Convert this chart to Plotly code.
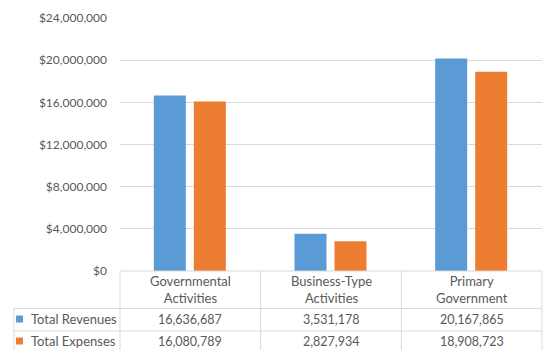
import plotly.graph_objects as go

categories = ["Governmental<br>Activities", "Business-Type<br>Activities", "Primary<br>Government"]
series_names = ["Total Revenues", "Total Expenses"]
revenues = [16636687, 3531178, 20167865]
expenses = [16080789, 2827934, 18908723]
colors = ["#5B9BD5", "#ED7D31"]
y_ticks = [0, 4000000, 8000000, 12000000, 16000000, 20000000, 24000000]

W, H = 546, 350
def px(x):
    return x / W
def py(y):
    return (H - y) / H

x0, x1 = 120, 542
y_top, y_zero = 18, 271
text_color = "#595959"
line_color = "#D9D9D9"
FONT = "Lato"

fig = go.Figure()
cat_w = (x1 - x0) / 3
bar_w = 32 / cat_w
for i, (name, vals) in enumerate(zip(series_names, [revenues, expenses])):
    fig.add_trace(go.Bar(
        x=[0, 1, 2], y=vals, name=name,
        marker=dict(color=colors[i], line=dict(width=0)),
        width=bar_w,
        offset=(-36.5 / cat_w) if i == 0 else (3.5 / cat_w),
        showlegend=False,
    ))

fig.update_layout(
    width=W, height=H, margin=dict(l=0, r=0, t=0, b=0, pad=0, autoexpand=False),
    showlegend=False,
    paper_bgcolor="white", plot_bgcolor="white",
    font=dict(family=FONT, size=12, color=text_color),
    xaxis=dict(domain=[px(x0), px(x1)], range=[-0.5, 2.5], showticklabels=False,
               showgrid=False, zeroline=False, fixedrange=True, automargin=False),
    yaxis=dict(domain=[py(y_zero), py(y_top)], range=[0, 24000000], tickvals=y_ticks,
               tickformat="$,.0f", showgrid=True, gridcolor=line_color, gridwidth=1,
               zeroline=False, ticks="", ticklabelstandoff=12, automargin=False,
               tickfont=dict(family=FONT, size=12, color=text_color)),
)

shapes = []
def hline(y, xa, xb):
    shapes.append(dict(type="line", xref="paper", yref="paper", x0=px(xa), x1=px(xb),
                       y0=py(y), y1=py(y), line=dict(color=line_color, width=1)))
def vline(x, ya, yb):
    shapes.append(dict(type="line", xref="paper", yref="paper", x0=px(x), x1=px(x),
                       y0=py(ya), y1=py(yb), line=dict(color=line_color, width=1)))

hline(y_zero, x0, x1)
hline(308.5, 14, x1)
hline(331, 14, x1)
vline(14, 308.5, 352)
for i in range(4):
    vline(x0 + i * cat_w, y_zero, 352)

anns = []
for i, c in enumerate(categories):
    cx = x0 + (i + 0.5) * cat_w
    anns.append(dict(x=px(cx), y=py(289.5), xref="paper", yref="paper", text=c,
                     showarrow=False, xanchor="center", yanchor="middle",
                     font=dict(family=FONT, size=13, color=text_color)))
    for r, vals in enumerate([revenues, expenses]):
        anns.append(dict(x=px(cx), y=py(319 + r * 22), xref="paper", yref="paper",
                         text=f"{vals[i]:,}", showarrow=False, xanchor="center",
                         yanchor="middle",
                         font=dict(family=FONT, size=12.5, color=text_color)))
for r, name in enumerate(series_names):
    yc = 319 + r * 22
    shapes.append(dict(type="rect", xref="paper", yref="paper", x0=px(16), x1=px(23),
                       y0=py(yc + 3.5), y1=py(yc - 3.5), fillcolor=colors[r],
                       line=dict(width=0)))
    anns.append(dict(x=px(29), y=py(yc), xref="paper", yref="paper", text=name,
                     showarrow=False, xanchor="left", yanchor="middle",
                     font=dict(family=FONT, size=13, color=text_color)))
fig.update_layout(shapes=shapes, annotations=anns)

fig.write_html("out.html")
